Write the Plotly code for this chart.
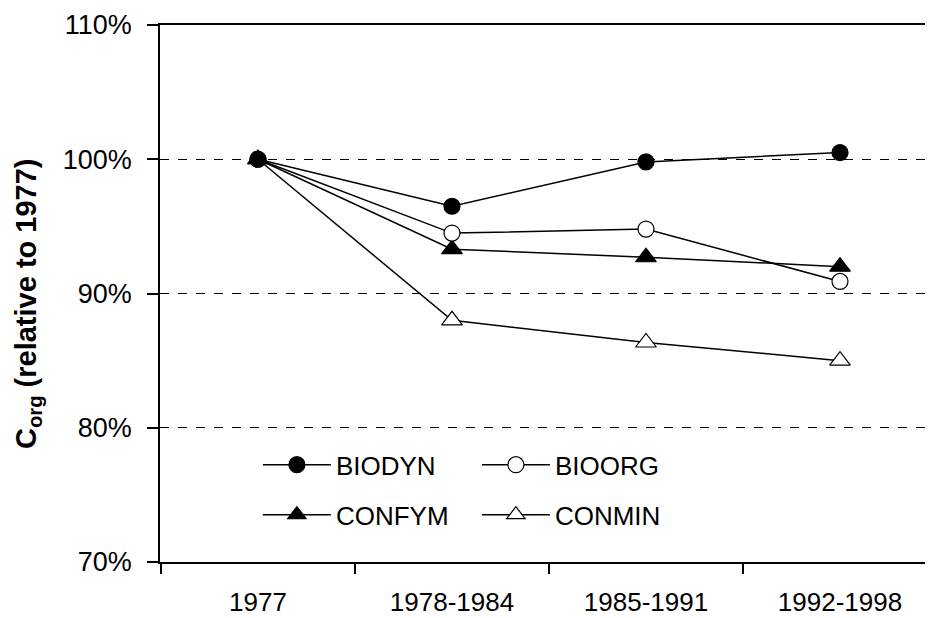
import plotly.graph_objects as go

periods = ["1977", "1978-1984", "1985-1991", "1992-1998"]
biodyn = [100.0, 96.5, 99.8, 100.5]
bioorg = [100.0, 94.5, 94.8, 90.9]
confym = [100.0, 93.3, 92.7, 92.0]
conmin = [100.0, 88.0, 86.35, 85.0]
y_ticks = [70, 80, 90, 100, 110]
y_ticklabels = ["70%", "80%", "90%", "100%", "110%"]
y_title = "<b>C<sub>org</sub> (relative to 1977)</b>"

FONT = "Liberation Sans, Arial, sans-serif"

series = [
    ("BIODYN", biodyn, "circle", "black", 16, "legend"),
    ("BIOORG", bioorg, "circle", "white", 16, "legend"),
    ("CONFYM", confym, "triangle-up", "black", 18, "legend2"),
    ("CONMIN", conmin, "triangle-up", "white", 18, "legend2"),
]

fig = go.Figure()
# draw CONMIN first so that the filled markers sit on top
for name, vals, sym, fill, size, leg in reversed(series):
    fig.add_trace(go.Scatter(
        x=periods, y=vals, name=name, mode="lines+markers",
        line=dict(color="black", width=1.5),
        marker=dict(symbol=sym, size=size, color=fill,
                    line=dict(color="black", width=1.2)),
        legend=leg,
    ))

leg_common = dict(orientation="h", xanchor="left", yanchor="middle",
                  traceorder="reversed", entrywidth=136, entrywidthmode="pixels",
                  itemwidth=68, bgcolor="rgba(0,0,0,0)", font=dict(size=26))

fig.update_layout(
    width=933, height=618,
    margin=dict(l=152, r=4, t=17, b=64),
    paper_bgcolor="white", plot_bgcolor="white",
    font=dict(family=FONT, size=26, color="black"),
    legend=dict(x=0.126, y=0.181, **leg_common),
    legend2=dict(x=0.126, y=0.088, **leg_common),
    annotations=[dict(text=y_title, textangle=-90, xref="paper", yref="paper",
                      x=-0.17, y=0.482, xanchor="center", yanchor="middle",
                      showarrow=False, font=dict(size=29, color="black"))],
)

fig.update_xaxes(
    type="category", range=[-0.505, 3.5],
    showline=True, linecolor="black", linewidth=1.5, mirror=True,
    ticks="outside", tickson="boundaries", ticklen=10, tickcolor="black", tickwidth=1.5,
    showgrid=False, tickfont=dict(size=26), zeroline=False, ticklabelstandoff=16,
)
fig.update_yaxes(
    range=[70, 110], tickvals=y_ticks, ticktext=y_ticklabels,
    showline=True, linecolor="black", linewidth=1.5,
    ticks="outside", ticklen=11, tickcolor="black", tickwidth=1.5,
    showgrid=True, gridcolor="black", gridwidth=1.4, griddash="dash",
    tickfont=dict(size=27), zeroline=False, ticklabelstandoff=10,
    automargin=False,
)

fig.write_html("out.html")
